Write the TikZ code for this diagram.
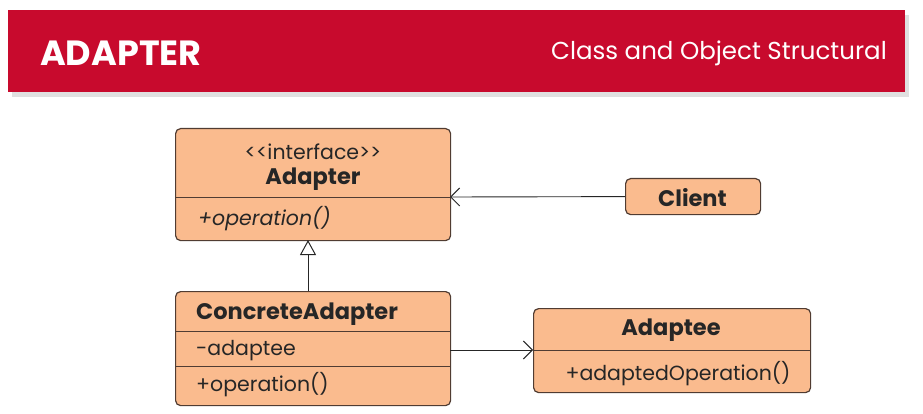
\documentclass[tikz,border=0pt]{standalone}
\usepackage{fontspec}
\setmainfont{Poppins}
\usetikzlibrary{arrows.meta,calc}
\definecolor{bannerred}{RGB}{200,10,45}
\definecolor{boxfill}{RGB}{250,187,142}
\definecolor{boxdraw}{RGB}{80,60,50}
\begin{document}
\begin{tikzpicture}[x=1pt,y=-1pt,
  umlbox/.style={draw=boxdraw,fill=boxfill,line width=1.2pt,rounded corners=5pt},
  divline/.style={draw=boxdraw,line width=1pt},
  conn/.style={draw=black!85,line width=0.9pt},
  txt/.style={font=\fontsize{20.5}{22}\selectfont,inner sep=0pt,text=black!85},
  btxt/.style={font=\fontsize{22.5}{24}\selectfont\bfseries,inner sep=0pt,text=black!85}]
\useasboundingbox (0,0) rectangle (923,414);
% banner shadow
\fill[black!12] (12,15) rectangle (909,97);
\fill[bannerred] (8,10) rectangle (905,92);
\node[anchor=west,text=white,font=\fontsize{35}{38}\selectfont\bfseries,inner sep=0pt] (title) at (40,53) {ADAPTER};
\node[anchor=east,text=white,font=\fontsize{24.5}{28}\selectfont,inner sep=0pt] (sub) at (887,53) {Class and Object Structural};
% Adapter
\node[umlbox,minimum width=275pt,minimum height=112pt,anchor=north west,inner sep=0pt] (adapter) at (175,128) {};
\draw[divline] (175,198) -- (450,198);
\node[txt] (stereo) at (313,152) {<{}<interface>{}>};
\node[btxt] (aname) at (313,179) {Adapter};
\node[txt,anchor=west] (aop) at (198,219) {\itshape +operation()};
% Client
\node[umlbox,minimum width=135pt,minimum height=36pt,anchor=north west,inner sep=0pt] (client) at (625,178) {};
\node[btxt] (cname) at (692.5,198) {Client};
% ConcreteAdapter
\node[umlbox,minimum width=275pt,minimum height=114pt,anchor=north west,inner sep=0pt] (cadapter) at (175,291) {};
\draw[divline] (175,331) -- (450,331);
\draw[divline] (175,366) -- (450,366);
\node[btxt,anchor=west] (caname) at (196,314) {ConcreteAdapter};
\node[txt,anchor=west] (caattr) at (196,351) {-adaptee};
\node[txt,anchor=west] (caop) at (196,385) {+operation()};
% Adaptee
\node[umlbox,minimum width=277pt,minimum height=84pt,anchor=north west,inner sep=0pt] (adaptee) at (533,308) {};
\draw[divline] (533,350) -- (810,350);
\node[btxt] (adname) at (671,330) {Adaptee};
\node[txt] (adop) at (678,374) {+adaptedOperation()};
% connectors
\coordinate (aright) at (450,197);
\coordinate (cleft) at (client.west);
\draw[conn,-{Straight Barb[length=9pt,width=18pt,line width=1pt]}] (cleft) -- (aright);
\coordinate (abot) at (308,240);
\coordinate (catop) at (308,291);
\draw[conn,-{Triangle[open,length=15pt,width=16pt,line width=1pt]}] (catop) -- (abot);
\coordinate (caright) at (450,350);
\coordinate (adleft) at (533,350);
\draw[conn,-{Straight Barb[length=9pt,width=18pt,line width=1pt]}] (caright) -- (adleft);
\end{tikzpicture}
\end{document}
